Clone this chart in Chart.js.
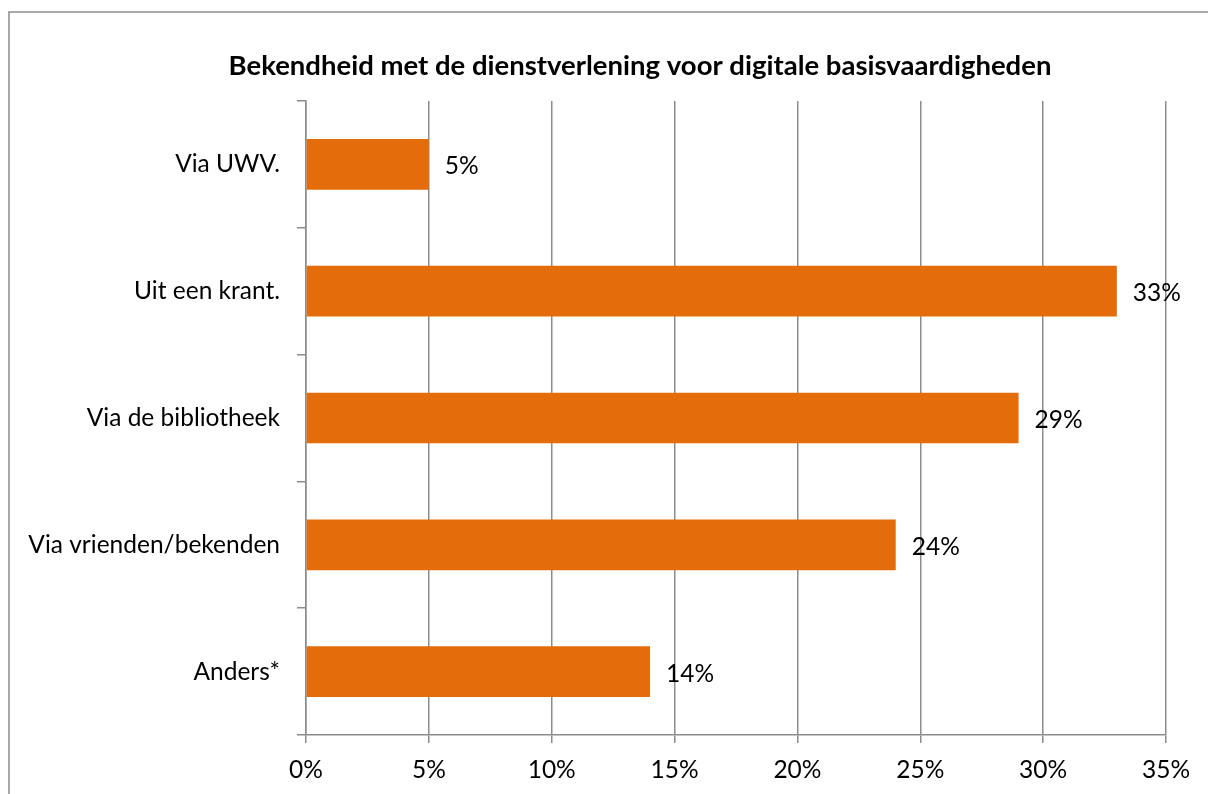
<!DOCTYPE html>
<html>
<head>
<meta charset="utf-8">
<script src="https://cdn.jsdelivr.net/npm/chart.js@4/dist/chart.umd.min.js"></script>
<style>
html,body{margin:0;padding:0;background:#fff;overflow:hidden;}
#wrap{position:relative;width:1208px;height:794px;}
</style>
</head>
<body>
<div id="wrap"><canvas id="c" width="1208" height="794"></canvas></div>
<script>
const titleText = 'Bekendheid met de dienstverlening voor digitale basisvaardigheden';
const categories = ['Via UWV.', 'Uit een krant.', 'Via de bibliotheek', 'Via vrienden/bekenden', 'Anders*'];
const values = [5, 33, 29, 24, 14];
const tickValues = [0, 5, 10, 15, 20, 25, 30, 35];

const FONT = 'Lato';
const GRID = '#8c8c8c';
const BAR = '#E46C0A';

const frame = {
  id: 'frame',
  beforeDraw(chart) {
    const ctx = chart.ctx;
    ctx.save();
    ctx.fillStyle = '#fff';
    ctx.fillRect(0, 0, chart.width, chart.height);
    ctx.strokeStyle = GRID;
    ctx.lineWidth = 1.5;
    ctx.strokeRect(9, 12, 1400, 1000);
    ctx.fillStyle = '#000';
    ctx.font = 'bold 27.5px ' + FONT;
    ctx.textAlign = 'center';
    ctx.textBaseline = 'middle';
    ctx.fillText(titleText, 640, 66);
    ctx.restore();
  }
};

const valueLabels = {
  id: 'valueLabels',
  afterDatasetsDraw(chart) {
    const ctx = chart.ctx;
    const meta = chart.getDatasetMeta(0);
    ctx.save();
    ctx.fillStyle = '#000';
    ctx.font = '24.5px ' + FONT;
    ctx.textAlign = 'left';
    ctx.textBaseline = 'middle';
    meta.data.forEach((el, i) => {
      ctx.fillText(values[i] + '%', el.x + 16, el.y + 2);
    });
    ctx.restore();
  }
};

new Chart(document.getElementById('c'), {
  type: 'bar',
  data: {
    labels: categories,
    datasets: [{
      data: values,
      backgroundColor: BAR,
      borderWidth: 0,
      barPercentage: 0.4,
      categoryPercentage: 1
    }]
  },
  options: {
    indexAxis: 'y',
    responsive: false,
    animation: false,
    devicePixelRatio: 1,
    layout: { padding: { left: 0, right: 42, top: 101, bottom: 0 } },
    plugins: { legend: { display: false }, title: { display: false }, tooltip: { enabled: false } },
    scales: {
      x: {
        min: 0, max: 35,
        afterBuildTicks: s => { s.ticks = tickValues.map(v => ({ value: v })); },
        afterFit: s => { s.height = 59; },
        ticks: {
          callback: v => v + '%',
          color: '#000',
          font: { family: FONT, size: 24.5 },
          padding: 12,
          maxRotation: 0
        },
        grid: { color: GRID, lineWidth: 1.5, tickLength: 8, drawTicks: true },
        border: { color: GRID, width: 1.5 }
      },
      y: {
        afterFit: s => { s.width = 306; },
        ticks: {
          color: '#000',
          font: { family: FONT, size: 24.5 },
          padding: 17
        },
        grid: { offset: true, drawOnChartArea: false, color: GRID, lineWidth: 1.5, tickLength: 9 },
        border: { color: GRID, width: 1.5 }
      }
    }
  },
  plugins: [frame, valueLabels]
});
</script>
</body>
</html>
